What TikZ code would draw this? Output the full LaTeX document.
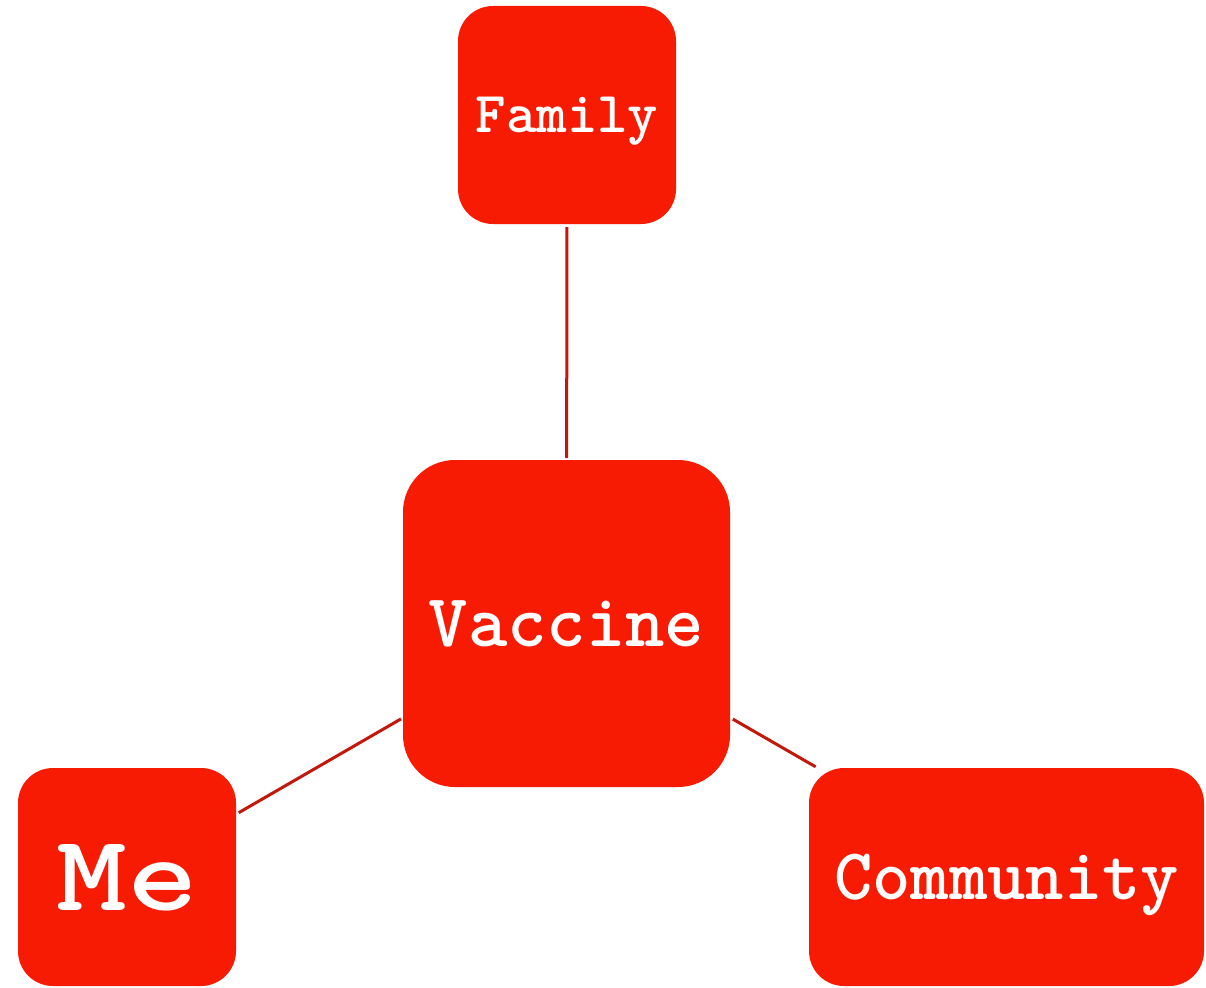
\documentclass[tikz,border=0pt]{standalone}
\usepackage{graphicx}
\usepackage{tikz}
\usetikzlibrary{positioning,calc}

\definecolor{boxred}{HTML}{F81B04}
\definecolor{linkred}{HTML}{C4170B}

\begin{document}
\begin{tikzpicture}[x=1pt,y=-1pt,
	box/.style={draw=none, fill=boxred, rectangle, inner sep=0pt, text=white, text depth=0pt,
		font=\ttfamily\fontseries{b}\selectfont},
	link/.style={linkred, line width=3pt, shorten <=3pt, shorten >=2pt}]
			\useasboundingbox (0,0) rectangle (1206,987);
			
			\node[box, minimum width=218pt, minimum height=218pt, rounded corners=35pt, font=\ttfamily\fontseries{b}\fontsize{58}{60}\selectfont] (family) at (567, 115) {Family};
			\node[box, minimum width=327pt, minimum height=327pt, rounded corners=52pt, font=\ttfamily\fontseries{b}\fontsize{75}{78}\selectfont] (vaccine) at (566.5, 623.5) {Vaccine};
			\node[box, minimum width=218pt, minimum height=218pt, rounded corners=35pt, font=\ttfamily\fontseries{b}\fontsize{108}{110}\selectfont] (me) at (127, 877) {\scalebox{1.25}[1]{Me}};
			\node[box, minimum width=395pt, minimum height=218pt, rounded corners=35pt, font=\ttfamily\fontseries{b}\fontsize{73}{76}\selectfont] (community) at (1006.5, 877) {Community};
			
			\draw[link] (family) -- (vaccine);
			\draw[link] (me) -- (vaccine);
			\draw[link] (vaccine) -- (community);
			
			\end{tikzpicture}
\end{document}
